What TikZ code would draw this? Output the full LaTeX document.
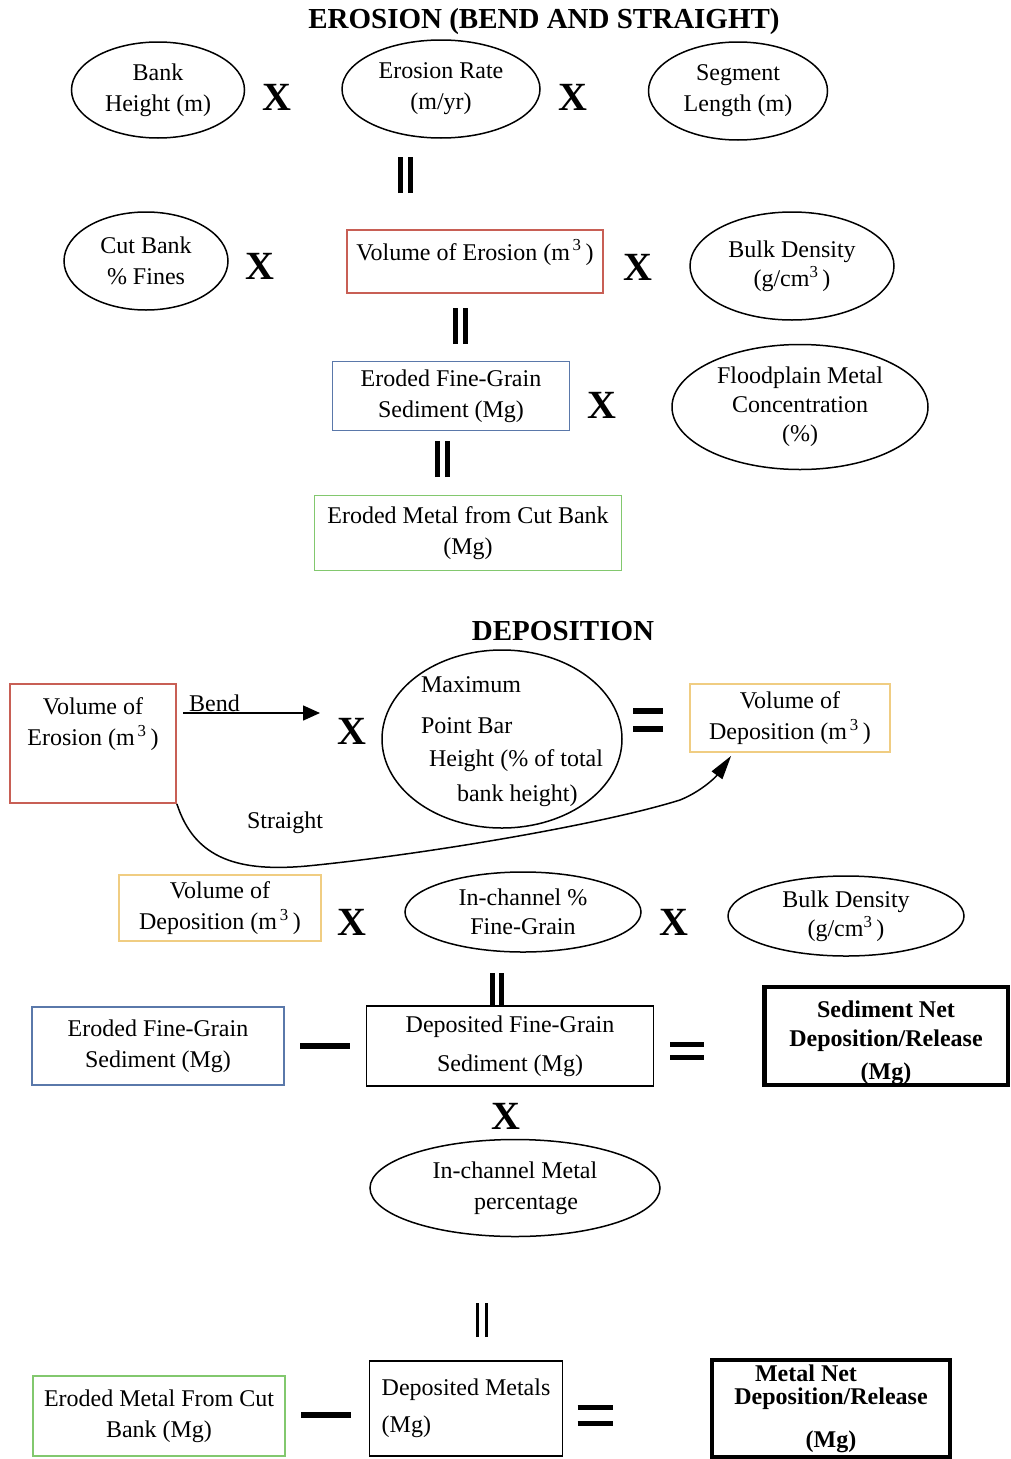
\documentclass[tikz,border=0pt]{standalone}
\usepackage{fontspec}
\setmainfont{Liberation Serif}
\usepackage{tikz}
\usetikzlibrary{arrows.meta, shapes.geometric}
\definecolor{erored}{RGB}{200,95,85}
\definecolor{sedblue}{RGB}{90,120,170}
\definecolor{metgreen}{RGB}{130,200,110}
\definecolor{depyellow}{RGB}{240,205,130}
\newcommand{\bodytxt}{\fontsize{24}{31}\selectfont}
\newcommand{\vbars}[3]{\rule{#1}{#3}\hspace{#2}\rule{#1}{#3}}
\newcommand{\hbars}[3]{\vbox{\hrule width #1 height #2\vskip #3\hrule width #1 height #2}}

\begin{document}
\begin{tikzpicture}[x=1pt, y=-1pt,
  oval/.style={ellipse, draw, line width=1.5pt, inner sep=0pt, align=center, font=\bodytxt},
  boxnode/.style={rectangle, draw, line width=1.8pt, inner sep=0pt, align=center, font=\bodytxt},
  netbox/.style={rectangle, draw, line width=4.5pt, inner sep=0pt, align=center, font=\bodytxt\bfseries},
  opx/.style={inner sep=0pt, font=\fontsize{40}{40}\selectfont\bfseries},
  opsign/.style={inner sep=0pt},
  heading/.style={font=\fontsize{29}{29}\selectfont\bfseries}]
\useasboundingbox (0,0) rectangle (1011,1459);
% erosion part
\node[heading] (titleA) at (544,22) {EROSION (BEND AND STRAIGHT)};
\node[oval, minimum width=173pt, minimum height=96pt] (bankH) at (158,90) {Bank\\Height (m)};
\node[opx] (xA) at (277,97) {X};
\node[oval, minimum width=198pt, minimum height=98pt] (eroRate) at (441,89) {Erosion Rate\\(m/yr)};
\node[opx] (xB) at (573,97) {X};
\node[oval, minimum width=179pt, minimum height=98pt] (segL) at (738,91) {Segment\\Length (m)};
\node[opsign] (eqA) at (405,175) {\vbars{5pt}{5pt}{36pt}};
\node[oval, minimum width=164pt, minimum height=98pt] (cutB) at (146,261) {Cut Bank\\\% Fines};
\node[opx] (xC) at (260,266) {X};
\node[boxnode, draw=erored, minimum width=256pt, text height=30pt, text depth=33pt] (volEroA) at (475,261.5) {Volume of Erosion (m\textsuperscript{\,3}\,)};
\node[opx] (xD) at (638,267) {X};
\node[oval, minimum width=204pt, minimum height=108pt] (bulkA) at (792,266) {Bulk Density\\[-2pt](g/cm\textsuperscript{3}\,)};
\node[opsign] (eqB) at (460,326) {\vbars{5pt}{5pt}{36pt}};
\node[boxnode, draw=sedblue, minimum width=237pt, minimum height=69pt] (fineA) at (451,396) {Eroded Fine-Grain\\Sediment (Mg)};
\node[opx] (xE) at (602,405) {X};
\node[oval, minimum width=256pt, minimum height=125pt] (floodM) at (800,407) {Floodplain Metal\\[-2pt]Concentration\\[-2pt](\%)};
\node[opsign] (eqC) at (442,459) {\vbars{5pt}{5pt}{36pt}};
\node[boxnode, draw=metgreen, minimum width=307pt, minimum height=75pt] (metA) at (468,533) {Eroded Metal from Cut Bank\\(Mg)};
% deposition part
\node[heading] (titleB) at (563,631) {DEPOSITION};
\node[boxnode, draw=erored, minimum width=166pt, minimum height=119pt] (volEroB) at (93,743.5) {Volume of\\Erosion (m\textsuperscript{\,3}\,)\\[12pt]\mbox{}};
\coordinate (bendA) at (183,713);
\coordinate (bendB) at (320,713);
\node[anchor=south west, inner sep=1pt, font=\bodytxt] (bendLbl) at (188,713) {Bend};
\draw[line width=1.5pt, -{Triangle[length=17pt,width=15pt]}] (bendA) -- (bendB);
\node[opx] (xF) at (352,731) {X};
\node[oval, minimum width=240pt, minimum height=178pt] (maxPB) at (502,739) {};
\node[font=\bodytxt, align=left] (maxPBtxt) at (502,742) {\hspace{20pt}Maximum\\[10pt]\hspace{20pt}Point Bar\\[2pt]\hspace{28pt}Height (\% of total\\[4pt]\hspace{56pt}bank height)};
\node[opsign] (eqD) at (648,720) {\hbars{30pt}{6pt}{12pt}};
\node[boxnode, draw=depyellow, minimum width=200pt, minimum height=68pt] (volDepA) at (790,718) {Volume of\\Deposition (m\textsuperscript{\,3}\,)};
\node[font=\bodytxt] (strLbl) at (285,823) {Straight};
\draw[line width=1.5pt, -{Triangle[length=24pt,width=13pt]}] (volEroB.south east) .. controls (195,860) and (240,872) .. (307,866)
  .. controls (420,855) and (600,825) .. (680,800) .. controls (700,792) and (715,778) .. ([xshift=42pt,yshift=-3pt]volDepA.south west);
\node[boxnode, draw=depyellow, minimum width=202pt, minimum height=66pt] (volDepB) at (220,908) {Volume of\\Deposition (m\textsuperscript{\,3}\,)};
\node[opx] (xG) at (352,922) {X};
\node[oval, minimum width=236pt, minimum height=80pt] (inFine) at (523,912) {In-channel \%\\[-2pt]Fine-Grain};
\node[opx] (xH) at (674,922) {X};
\node[oval, minimum width=236pt, minimum height=80pt] (bulkB) at (846,916) {Bulk Density\\[-2pt](g/cm\textsuperscript{3}\,)};
\node[opsign] (eqE) at (497,989) {\vbars{5pt}{4pt}{33pt}};
\node[boxnode, draw=sedblue, minimum width=252pt, minimum height=78pt] (fineB) at (158,1046) {Eroded Fine-Grain\\Sediment (Mg)};
\node[opsign] (minA) at (325,1046) {\rule{50pt}{6pt}};
\node[boxnode, line width=1.2pt, minimum width=287pt, minimum height=80pt] (depFine) at (510,1046) {Deposited Fine-Grain\\[8pt]Sediment (Mg)};
\node[opsign] (eqF) at (687,1051) {\hbars{34pt}{5pt}{8pt}};
\node[netbox, minimum width=243.5pt, minimum height=97pt] (sedNet) at (886,1036) {\mbox{}\\[0pt]Sediment Net\\[-2pt]Deposition/Release\\[2pt](Mg)};
\node[opx] (xI) at (506,1116) {X};
\node[oval, minimum width=290pt, minimum height=97pt] (inMet) at (515,1188) {In-channel Metal\\\hspace{22pt}percentage};
\node[opsign] (eqG) at (482,1320) {\vbars{3pt}{6pt}{34pt}};
\node[boxnode, draw=metgreen, minimum width=252pt, minimum height=80pt] (metB) at (159,1416) {Eroded Metal From Cut\\Bank (Mg)};
\node[opsign] (minB) at (326,1415) {\rule{50pt}{6pt}};
\node[boxnode, line width=1.2pt, minimum width=193pt, minimum height=95pt, align=left] (depMet) at (466,1408.5) {Deposited Metals\\[6pt](Mg)};
\node[opsign] (eqH) at (595,1415) {\hbars{35pt}{5pt}{11pt}};
\node[netbox, minimum width=238pt, minimum height=97pt] (metNet) at (831,1408.5) {Metal Net\hspace{50pt}\mbox{}\\[-8pt]Deposition/Release\\[12pt](Mg)};
\end{tikzpicture}
\end{document}
